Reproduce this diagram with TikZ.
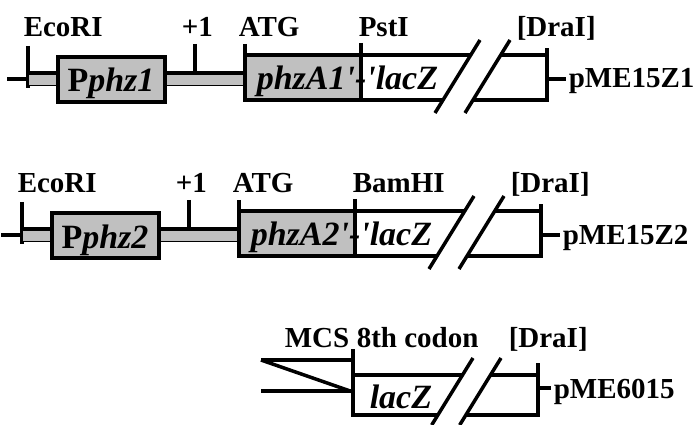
\documentclass[tikz,border=0pt]{standalone}
\usepackage{fontspec}
\setmainfont{Liberation Serif}
\definecolor{boxgray}{RGB}{192,192,192}

\begin{document}
\begin{tikzpicture}[x=1pt, y=-1pt, line width=3.5pt,
  lab/.style={font=\fontsize{29}{32}\selectfont\bfseries, inner sep=0pt, anchor=base west},
  gene/.style={font=\fontsize{34}{36}\selectfont\bfseries\itshape, inner sep=0pt, anchor=base west}]

\useasboundingbox (0,0) rectangle (697,425);

% pME15Z1 and pME15Z2
\foreach \dx/\dy/\n/\site/\plasmid in {0/0/1/PstI/pME15Z1, -6/156/2/BamHI/pME15Z2} {
\begin{scope}[shift={(\dx,\dy)}]
  % promoter part
  \draw (7,79) -- (28,79);
  \draw (28,46) -- (28,88);
  \draw[line width=0.8pt, fill=boxgray] (28,73) rectangle (245,85);
  \draw (28,73) -- (245,73);
  \draw[fill=boxgray] (58,57) rectangle (165,102);
  \draw (195,44) -- (195,73);
  % fusion part
  \fill[boxgray] (245,55) rectangle (361,100);
  \draw (245,44) -- (245,100) -- (443,100);
  \draw (245,55) -- (470.8,55);
  \draw (361,43) -- (361,100);
  \draw (473,100) -- (547,100) -- (547,48);
  \draw (500.8,55) -- (547,55);
  \draw (547,79) -- (566,79);
  % break
  \draw (435,113) -- (480,40);
  \draw (465,113) -- (510,40);

  \node[lab] (eco\n) at (22,37) {EcoRI};
  \node[lab] (tss\n) at (180,37) {+1};
  \node[lab] (atg\n) at (237,37) {ATG};
  \node[lab] (site\n) at (357,37) {\site};
  \node[lab] (dra\n) at (515,37) {[DraI]};
  \node[lab] (pl\n) at (567,88) {\plasmid};
  \node[gene, anchor=base] (prom\n) at (111,92) {{\upshape P}phz\n};
  \node[gene] (fus\n) at (255,90) {phzA\n\textquotesingle-\textquotesingle lacZ};
\end{scope}
}

% pME6015
\draw (261,360) -- (353,360);
\draw (261,360) -- (353,392);
\draw (261,391) -- (353,391);
\draw (353,349) -- (353,415) -- (437.9,415);
\draw (353,375) -- (462.5,375);
\draw (465.9,415) -- (538,415) -- (538,363);
\draw (490.5,375) -- (538,375);
\draw (538,388) -- (551,388);
\draw (473,358) -- (431.7,425);
\draw (501,358) -- (459.7,425);

\node[lab] (mcs) at (283,347) {MCS};
\node[lab] (codon) at (355,347) {8th codon};
\node[lab] (dra3) at (507,347) {[DraI]};
\node[gene] (lacz) at (368,408) {lacZ};
\node[lab] (pl3) at (552,398) {pME6015};

\end{tikzpicture}
\end{document}
